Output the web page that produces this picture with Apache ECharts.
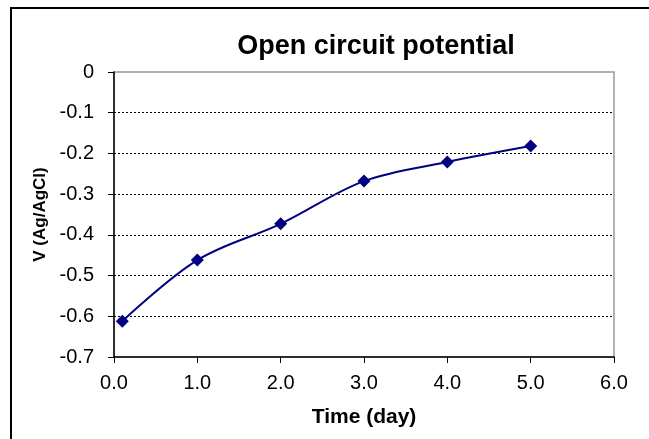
<!DOCTYPE html>
<html><head><meta charset="utf-8">
<script src="https://cdn.jsdelivr.net/npm/echarts@6/dist/echarts.min.js"></script>
<style>html,body{margin:0;padding:0;background:#fff}#c{width:649px;height:439px}</style>
</head><body><div id="c"></div>
<script>
var days = [0.1, 1.0, 2.0, 3.0, 4.0, 5.0];
var potential = [-0.612, -0.462, -0.373, -0.268, -0.221, -0.182];
var gridValues = [-0.1, -0.2, -0.3, -0.4, -0.5, -0.6];
var titleText = 'Open circuit potential';
var xName = 'Time (day)';
var yName = 'V (Ag/AgCl)';

var chart = echarts.init(document.getElementById('c'));
var F = '"Liberation Sans", Arial, sans-serif';
chart.setOption({
  animation: false,
  backgroundColor: '#fff',
  title: { text: titleText, left: 371, top: 28, textAlign: 'center',
    textStyle: { fontFamily: F, fontSize: 27, fontWeight: 'bold', color: '#000' } },
  graphic: [{ type: 'rect', shape: { x: 11, y: 8, width: 800, height: 600 },
    style: { fill: 'none', stroke: '#000', lineWidth: 2 }, silent: true }],
  grid: { left: 114, right: 35, top: 72, bottom: 82, show: true, borderColor: '#999', borderWidth: 1.5 },
  xAxis: { type: 'value', min: 0, max: 6, interval: 1,
    name: xName, nameLocation: 'middle', nameGap: 50,
    nameTextStyle: { fontFamily: F, fontSize: 21, fontWeight: 'bold', color: '#000' },
    axisLine: { show: true, onZero: false, lineStyle: { color: '#000', width: 1.5 } },
    axisTick: { show: true, inside: false, length: 6, lineStyle: { color: '#000' } },
    axisLabel: { fontFamily: F, fontSize: 20, color: '#000', margin: 16,
      formatter: function (v) { return v.toFixed(1); } },
    splitLine: { show: false } },
  yAxis: { type: 'value', min: -0.7, max: 0, interval: 0.1,
    name: yName, nameLocation: 'middle', nameGap: 64, nameRotate: 90,
    nameTextStyle: { fontFamily: F, fontSize: 17, fontWeight: 'bold', color: '#000' },
    axisLine: { show: true, onZero: false, lineStyle: { color: '#000', width: 1.5 } },
    axisTick: { show: true, inside: false, length: 6, lineStyle: { color: '#000' } },
    axisLabel: { fontFamily: F, fontSize: 20, color: '#000', margin: 20,
      formatter: function (v) { return v === 0 ? '0' : v.toFixed(1); } },
    splitLine: { show: false } },
  series: [{ type: 'line', smooth: 0.35, z: 3,
    data: days.map(function (d, i) { return [d, potential[i]]; }),
    symbol: 'diamond', symbolSize: 13,
    lineStyle: { color: '#000080', width: 2 },
    itemStyle: { color: '#000080' },
    markLine: { silent: true, symbol: 'none', label: { show: false }, z: 1,
      lineStyle: { color: '#000', type: [2, 2], width: 1 },
      data: gridValues.map(function (v) { return { yAxis: v }; }) } }]
});
</script></body></html>
